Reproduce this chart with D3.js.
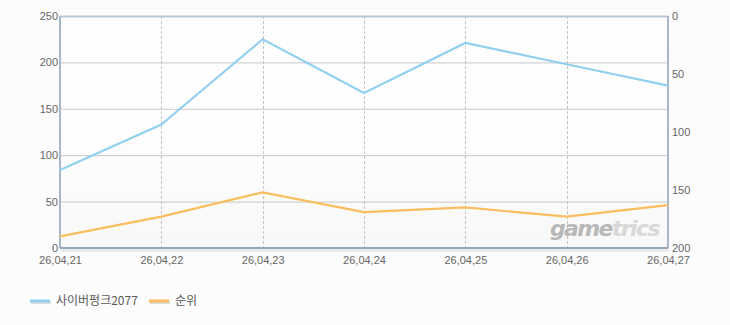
<!DOCTYPE html>
<html>
<head>
<meta charset="utf-8">
<script src="https://cdn.jsdelivr.net/npm/d3@7"></script>
<style>
  body { margin: 0; background: #fcfcfc; }
  svg { display: block; font-family: "Liberation Sans", "Noto Sans CJK KR", sans-serif; }
</style>
</head>
<body>
<svg id="chart" width="730" height="325"></svg>
<script>
// data
var dates = ["26,04,21", "26,04,22", "26,04,23", "26,04,24", "26,04,25", "26,04,26", "26,04,27"];
var viewers = [84, 133, 225, 167, 221, 198, 175];   // 사이버펑크2077, left axis
var ranks = [190, 173, 152, 169, 165, 173, 163];    // 순위, right axis (reversed)
var leftTicks = [0, 50, 100, 150, 200, 250];
var rightTicks = [0, 50, 100, 150, 200];
var seriesNames = ["사이버펑크2077", "순위"];
var seriesColors = ["#92d0ef", "#fbbe5e"];

var svg = d3.select("#chart"),
    margin = {left: 60, right: 62, top: 16, bottom: 77},
    width = +svg.attr("width") - margin.left - margin.right,
    height = +svg.attr("height") - margin.top - margin.bottom;

var x = d3.scalePoint().domain(dates).range([0, width]);
var yL = d3.scaleLinear().domain([0, 250]).range([height, 0]);
var yR = d3.scaleLinear().domain([0, 200]).range([0, height]);

var defs = svg.append("defs");
var grad = defs.append("linearGradient").attr("id", "bg").attr("x1", 0).attr("y1", 0).attr("x2", 0).attr("y2", 1);
grad.append("stop").attr("offset", "0%").attr("stop-color", "#fdfdfd");
grad.append("stop").attr("offset", "40%").attr("stop-color", "#ffffff");
grad.append("stop").attr("offset", "100%").attr("stop-color", "#f8f8f8");

var g = svg.append("g").attr("transform", "translate(" + margin.left + "," + margin.top + ")");

g.append("rect").attr("width", width).attr("height", height).attr("fill", "url(#bg)");

// horizontal grid
g.selectAll(".hgrid")
    .data(leftTicks.slice(1, -1))
  .enter().append("line")
    .attr("x1", 0).attr("x2", width)
    .attr("y1", function(d) { return yL(d) + 0.5; })
    .attr("y2", function(d) { return yL(d) + 0.5; })
    .attr("stroke", "#c8c8c8");

// vertical dashed grid
g.selectAll(".vgrid")
    .data(dates.slice(1, -1))
  .enter().append("line")
    .attr("x1", function(d) { return Math.round(x(d)) + 0.5; })
    .attr("x2", function(d) { return Math.round(x(d)) + 0.5; })
    .attr("y1", 0).attr("y2", height)
    .attr("stroke", "#c4c4c4")
    .attr("stroke-dasharray", "3,2");

// watermark
var wm = g.append("text")
    .attr("x", width - 9).attr("y", height - 12)
    .attr("text-anchor", "end")
    .attr("font-family", "Verdana, 'DejaVu Sans', sans-serif")
    .attr("font-size", 22).attr("font-weight", "bold").attr("font-style", "italic")
    .attr("letter-spacing", -1.6);
wm.append("tspan").attr("fill", "#b8b8b8").text("game");
wm.append("tspan").attr("fill", "#d8d8d8").text("trics");

// frame
g.append("line").attr("x1", 0).attr("x2", width).attr("y1", 0.5).attr("y2", 0.5)
    .attr("stroke", "#b8c8da").attr("stroke-width", 2);
g.append("line").attr("x1", 0).attr("x2", 0).attr("y1", 0).attr("y2", height)
    .attr("stroke", "#a8b8cc").attr("stroke-width", 2);
g.append("line").attr("x1", width).attr("x2", width).attr("y1", 0).attr("y2", height)
    .attr("stroke", "#a8b8cc").attr("stroke-width", 2);
g.append("line").attr("x1", 1).attr("x2", width + 1).attr("y1", height + 2.5).attr("y2", height + 2.5)
    .attr("stroke", "#e4e4e4").attr("stroke-width", 2);
g.append("line").attr("x1", 0).attr("x2", width).attr("y1", height).attr("y2", height)
    .attr("stroke", "#94a6bc").attr("stroke-width", 2);

// lines
var lineL = d3.line().x(function(d, i) { return x(dates[i]); }).y(function(d) { return yL(d); });
var lineR = d3.line().x(function(d, i) { return x(dates[i]); }).y(function(d) { return yR(d); });

g.append("path").datum(viewers).attr("d", lineL)
    .attr("fill", "none").attr("stroke", seriesColors[0]).attr("stroke-width", 2.2);
g.append("path").datum(ranks).attr("d", lineR)
    .attr("fill", "none").attr("stroke", seriesColors[1]).attr("stroke-width", 2.2);

// axes
var axL = g.append("g").call(d3.axisLeft(yL).tickValues(leftTicks).tickSize(0).tickPadding(2));
var axR = g.append("g").attr("transform", "translate(" + width + ",0)")
    .call(d3.axisRight(yR).tickValues(rightTicks).tickSize(0).tickPadding(4));
var axB = g.append("g").attr("transform", "translate(0," + height + ")")
    .call(d3.axisBottom(x).tickSize(0).tickPadding(8));

[axL, axR, axB].forEach(function(a) {
  a.select(".domain").remove();
  a.selectAll("text").attr("fill", "#666").attr("font-size", 11)
      .attr("font-family", "'Liberation Sans', sans-serif");
});
axL.selectAll("text").attr("dy", "0.32em");
axR.selectAll("text").attr("dy", "0.32em");

// legend
var legend = svg.append("g").attr("transform", "translate(30,301)");
var item = legend.selectAll("g")
    .data(seriesNames)
  .enter().append("g")
    .attr("transform", function(d, i) { return "translate(" + (i * 119) + ",0)"; });
item.append("line").attr("x1", 1).attr("x2", 21).attr("y1", 1.5).attr("y2", 1.5)
    .attr("stroke", "#ddd").attr("stroke-width", 3);
item.append("line").attr("x1", 0).attr("x2", 20).attr("y1", 0).attr("y2", 0)
    .attr("stroke", function(d, i) { return seriesColors[i]; }).attr("stroke-width", 3);
item.append("text").attr("x", 26).attr("y", 0).attr("dy", "0.35em")
    .attr("fill", "#5a5a5a").attr("font-size", 12)
    .attr("font-family", "'Noto Sans CJK KR', sans-serif")
    .text(function(d) { return d; });
</script>
</body>
</html>
